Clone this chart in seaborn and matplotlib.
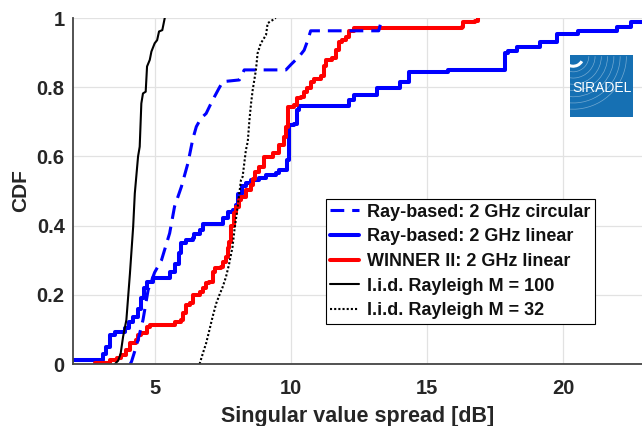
import matplotlib
matplotlib.use("Agg")
import matplotlib.pyplot as plt
import seaborn as sns
from matplotlib.patches import Arc

# ---------------- data ----------------
# Ray-based: 2 GHz linear (step levels, steps-post)
lin_x = [1.8, 3.11, 3.22, 3.35, 3.54, 3.90, 4.05, 4.21, 4.39, 4.50, 4.60, 4.70, 4.94, 5.55, 5.73,
         5.91, 5.98, 6.16, 6.40, 6.46, 6.65, 6.77, 7.50, 7.68, 7.86, 7.99, 8.05, 8.20, 8.35, 8.54,
         8.84, 9.09, 9.45, 9.57, 9.85, 9.94, 10.12, 10.24, 10.30, 12.13, 12.32, 13.17, 14.02, 14.33,
         15.79, 17.87, 17.99, 18.30, 19.15, 19.76, 20.55, 22.00, 22.50, 23.20]
lin_y = [0.012, 0.03, 0.048, 0.084, 0.092, 0.104, 0.12, 0.135, 0.16, 0.19, 0.22, 0.237, 0.25, 0.266, 0.29,
         0.32, 0.35, 0.358, 0.363, 0.377, 0.387, 0.406, 0.421, 0.44, 0.445, 0.46, 0.49, 0.515, 0.522, 0.532,
         0.537, 0.546, 0.551, 0.561, 0.59, 0.69, 0.695, 0.734, 0.747, 0.763, 0.777, 0.797, 0.816, 0.843,
         0.851, 0.90, 0.905, 0.915, 0.93, 0.954, 0.962, 0.975, 0.989, 1.0]

# WINNER II: 2 GHz linear (steps-post)
win_x = [2.80, 3.35, 3.60, 3.78, 3.96, 4.09, 4.33, 4.39, 4.51, 4.70, 4.82, 5.73, 5.95, 6.04, 6.16,
         6.28, 6.40, 6.65, 6.77, 6.89, 7.01, 7.13, 7.20, 7.44, 7.50, 7.62, 7.68, 7.74, 7.81, 7.93,
         7.99, 8.11, 8.17, 8.35, 8.54, 8.60, 8.70, 8.84, 9.03, 9.33, 9.57, 9.76, 9.82, 9.88, 10.12,
         10.24, 10.37, 10.49, 10.61, 10.73, 10.85, 11.10, 11.22, 11.28, 11.52, 11.65, 11.77, 11.89, 12.01,
         12.13, 12.32, 16.28, 16.34, 16.77, 16.89]
win_y = [0.004, 0.012, 0.016, 0.026, 0.04, 0.06, 0.069, 0.084, 0.089, 0.108, 0.113, 0.122, 0.127, 0.146, 0.17,
         0.175, 0.2, 0.209, 0.219, 0.233, 0.238, 0.267, 0.277, 0.281, 0.296, 0.31, 0.334, 0.353, 0.40, 0.435,
         0.455, 0.474, 0.484, 0.503, 0.517, 0.535, 0.555, 0.57, 0.599, 0.609, 0.633, 0.657, 0.686, 0.744, 0.749,
         0.768, 0.773, 0.787, 0.797, 0.816, 0.825, 0.831, 0.86, 0.879, 0.883, 0.907, 0.932, 0.936, 0.946,
         0.961, 0.97, 0.975, 0.987, 0.99, 1.0]

# Ray-based: 2 GHz circular
circ_x = [4.10, 4.15, 4.28, 4.39, 4.57, 4.76, 5.00, 5.25, 5.55, 5.73, 5.98, 6.22, 6.40, 6.53, 6.70,
          6.89, 7.05, 7.20, 7.35, 7.50, 8.11, 8.29, 9.82, 10.00, 10.18, 10.35, 10.49, 10.62, 10.73, 13.23, 13.35]
circ_y = [0.0, 0.007, 0.04, 0.07, 0.127, 0.214, 0.265, 0.30, 0.378, 0.455, 0.512, 0.58, 0.65, 0.686, 0.71,
          0.724, 0.75, 0.773, 0.795, 0.816, 0.821, 0.85, 0.85, 0.865, 0.879, 0.893, 0.907, 0.935, 0.963, 0.963, 1.0]

# I.i.d. Rayleigh M = 100
m100_x = [3.54, 3.66, 3.75, 3.84, 3.96, 4.09, 4.21, 4.27, 4.39, 4.45, 4.51, 4.57, 4.67, 4.72, 4.82,
          4.88, 5.00, 5.09, 5.16, 5.28, 5.37]
m100_y = [0.0, 0.01, 0.03, 0.079, 0.127, 0.26, 0.397, 0.493, 0.60, 0.628, 0.753, 0.782, 0.787, 0.86, 0.879,
          0.903, 0.927, 0.936, 0.961, 0.965, 1.0]

# I.i.d. Rayleigh M = 32
m32_x = [6.65, 6.77, 6.89, 7.01, 7.13, 7.26, 7.38, 7.50, 7.62, 7.74, 7.86, 7.93, 8.05, 8.17, 8.23,
         8.35, 8.42, 8.48, 8.54, 8.60, 8.72, 8.78, 8.90, 9.09, 9.15, 9.45]
m32_y = [0.0, 0.031, 0.06, 0.098, 0.137, 0.175, 0.2, 0.223, 0.252, 0.291, 0.339, 0.387, 0.455, 0.532, 0.541,
         0.618, 0.643, 0.705, 0.753, 0.792, 0.85, 0.898, 0.927, 0.951, 0.985, 1.0]

labels = ["Ray-based: 2 GHz circular", "Ray-based: 2 GHz linear", "WINNER II: 2 GHz linear",
          "I.i.d. Rayleigh M = 100", "I.i.d. Rayleigh M = 32"]
x_ticks = [5, 10, 15, 20]
x_tick_labels = ["5", "10", "15", "20"]
y_ticks = [0, 0.2, 0.4, 0.6, 0.8, 1.0]
y_tick_labels = ["0", "0.2", "0.4", "0.6", "0.8", "1"]
x_label = "Singular value spread [dB]"
y_label = "CDF"
logo_text = "SIRADEL"

# ---------------- style ----------------
sns.set_theme(style="whitegrid")
plt.rcParams["font.family"] = ["Liberation Sans", "DejaVu Sans"]
plt.rcParams["font.weight"] = "bold"
plt.rcParams["axes.labelweight"] = "bold"

fig = plt.figure(figsize=(6.42, 4.26), dpi=100)
fig.patch.set_facecolor("white")
ax = fig.add_axes([73 / 642, 1 - 364 / 426, 1 - 73 / 642, (364 - 18) / 426])
ax.set_facecolor("white")

# ---------------- series ----------------
sns.lineplot(x=lin_x, y=lin_y, ax=ax, color="#0000ff", linewidth=2.9, drawstyle="steps-post",
             estimator=None, sort=False, label=labels[1])
sns.lineplot(x=win_x, y=win_y, ax=ax, color="#ff0000", linewidth=2.9, drawstyle="steps-post",
             estimator=None, sort=False, label=labels[2])
sns.lineplot(x=circ_x, y=circ_y, ax=ax, color="#0000ff", linewidth=2.2, linestyle=(0, (4.5, 2.6)),
             estimator=None, sort=False, label=labels[0])
sns.lineplot(x=m100_x, y=m100_y, ax=ax, color="black", linewidth=1.5,
             estimator=None, sort=False, label=labels[3])
sns.lineplot(x=m32_x, y=m32_y, ax=ax, color="black", linewidth=1.5, linestyle=(0, (1, 1)),
             estimator=None, sort=False, label=labels[4])

# ---------------- axes ----------------
ax.set_xlim(2.0, 22.9)
ax.set_ylim(0, 1)
ax.set_xticks(x_ticks)
ax.set_xticklabels(x_tick_labels)
ax.set_yticks(y_ticks)
ax.set_yticklabels(y_tick_labels)
ax.grid(True, color="#e2e2e2", linewidth=0.9)
ax.set_axisbelow(True)
for s in ["top", "right"]:
    ax.spines[s].set_visible(False)
for s in ["left", "bottom"]:
    ax.spines[s].set_visible(True)
    ax.spines[s].set_color("#444444")
    ax.spines[s].set_linewidth(1.3)
ax.tick_params(axis="both", direction="in", length=4, width=1, color="#444444",
               labelsize=14.5, labelcolor="#262626")
ax.tick_params(axis="x", pad=10.5)
ax.tick_params(axis="y", pad=6)
ax.set_xlabel(x_label, fontsize=15.5, color="#262626", labelpad=6)
ax.set_ylabel(y_label, fontsize=15, color="#262626", labelpad=5)

handles, labs = ax.get_legend_handles_labels()
order = [labs.index(l) for l in labels]
leg = ax.legend([handles[i] for i in order], [labs[i] for i in order],
                loc="upper left", bbox_to_anchor=(325.7 / 642, 1 - 199.3 / 426),
                bbox_transform=fig.transFigure, fontsize=13, handlelength=1.6,
                handletextpad=0.45, borderpad=0.25, labelspacing=0.42, borderaxespad=0,
                frameon=True, fancybox=False, framealpha=1, edgecolor="black")
leg.get_frame().set_linewidth(0.8)
for t in leg.get_texts():
    t.set_color("#111111")

# ---------------- logo ----------------
lax = fig.add_axes([570 / 642, 1 - 117.3 / 426, 62.7 / 642, 62.3 / 426], zorder=10)
lax.set_facecolor("#1670b3")
lax.set_xlim(0, 1)
lax.set_ylim(0, 1)
lax.set_xticks([])
lax.set_yticks([])
for s in lax.spines.values():
    s.set_visible(False)
lax.grid(False)
lax.add_patch(Arc((0.05, 0.98), 0.32, 0.32, theta1=200, theta2=330, color="white", lw=2.2))
for r in [0.5, 0.7, 0.9, 1.1, 1.3, 1.5, 1.7]:
    lax.add_patch(Arc((0.05, 0.98), r, r, theta1=190, theta2=360, color="white", lw=0.5, alpha=0.4))
lax.text(0.51, 0.475, logo_text, color="white", fontsize=10, fontweight="normal",
         ha="center", va="center", transform=lax.transAxes)

fig.savefig("out.png", dpi=100, facecolor="white")
